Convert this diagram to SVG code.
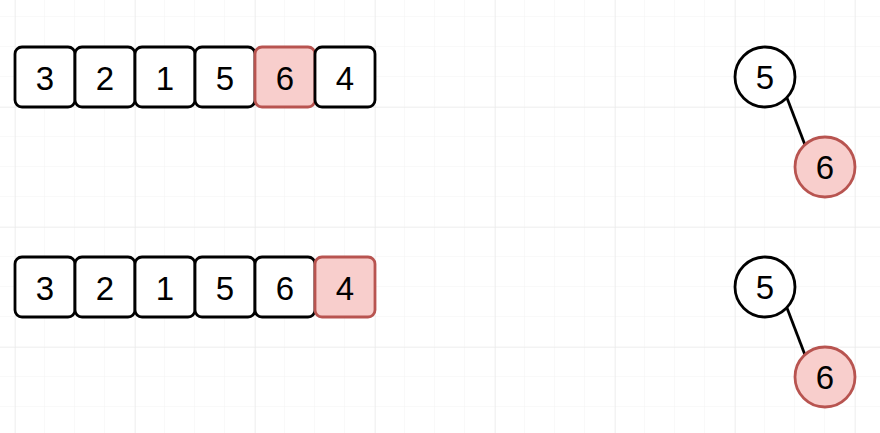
<svg xmlns="http://www.w3.org/2000/svg" width="880" height="433" viewBox="0 0 880 433">
<defs>
<pattern id="minor" x="15" y="17" width="30" height="30" patternUnits="userSpaceOnUse">
<path d="M30 0 V30 M0 30 H30" fill="none" stroke="#f3f3f3" stroke-width="1"/>
</pattern>
<pattern id="major" x="15" y="-13" width="120" height="120" patternUnits="userSpaceOnUse">
<path d="M0 0 V120 M0 0 H120" fill="none" stroke="#e8e8e8" stroke-width="1"/>
</pattern>
</defs>
<style>
.b{fill:#fff;stroke:#000;stroke-width:2.8}
.r{fill:#f8cecc;stroke:#b85450;stroke-width:2.8}
.t{font-family:"Liberation Sans",Arial,sans-serif;font-size:33px;text-anchor:middle;fill:#000}
.e{stroke:#000;stroke-width:2.8;fill:none}
</style>
<rect width="880" height="433" fill="#fff"/>
<rect width="880" height="433" fill="url(#minor)"/>
<rect width="880" height="433" fill="url(#major)"/>
<g id="row1">
<g id="a1"><rect class="b" x="15" y="47" width="60" height="60" rx="7"/><text class="t" x="45" y="89.5">3</text></g>
<g id="a2"><rect class="b" x="75" y="47" width="60" height="60" rx="7"/><text class="t" x="105" y="89.5">2</text></g>
<g id="a3"><rect class="b" x="135" y="47" width="60" height="60" rx="7"/><text class="t" x="165" y="89.5">1</text></g>
<g id="a4"><rect class="b" x="195" y="47" width="60" height="60" rx="7"/><text class="t" x="225" y="89.5">5</text></g>
<g id="a5"><rect class="r" x="255" y="47" width="60" height="60" rx="7"/><text class="t" x="285" y="89.5">6</text></g>
<g id="a6"><rect class="b" x="315" y="47" width="60" height="60" rx="7"/><text class="t" x="345" y="89.5">4</text></g>
</g>
<g id="row2">
<g id="b1"><rect class="b" x="15" y="257" width="60" height="60" rx="7"/><text class="t" x="45" y="299.5">3</text></g>
<g id="b2"><rect class="b" x="75" y="257" width="60" height="60" rx="7"/><text class="t" x="105" y="299.5">2</text></g>
<g id="b3"><rect class="b" x="135" y="257" width="60" height="60" rx="7"/><text class="t" x="165" y="299.5">1</text></g>
<g id="b4"><rect class="b" x="195" y="257" width="60" height="60" rx="7"/><text class="t" x="225" y="299.5">5</text></g>
<g id="b5"><rect class="b" x="255" y="257" width="60" height="60" rx="7"/><text class="t" x="285" y="299.5">6</text></g>
<g id="b6"><rect class="r" x="315" y="257" width="60" height="60" rx="7"/><text class="t" x="345" y="299.5">4</text></g>
</g>
<g id="connectors">
<path class="e" d="M787 98 L805 145"/>
<path class="e" d="M787 308 L805 355"/>
</g>
<g id="t1n5"><circle class="b" cx="765" cy="77" r="30"/><text class="t" x="765" y="89">5</text></g>
<g id="t1n6"><circle class="r" cx="825" cy="167" r="30"/><text class="t" x="825" y="179">6</text></g>
<g id="t2n5"><circle class="b" cx="765" cy="287" r="30"/><text class="t" x="765" y="299">5</text></g>
<g id="t2n6"><circle class="r" cx="825" cy="377" r="30"/><text class="t" x="825" y="389">6</text></g>
</svg>
